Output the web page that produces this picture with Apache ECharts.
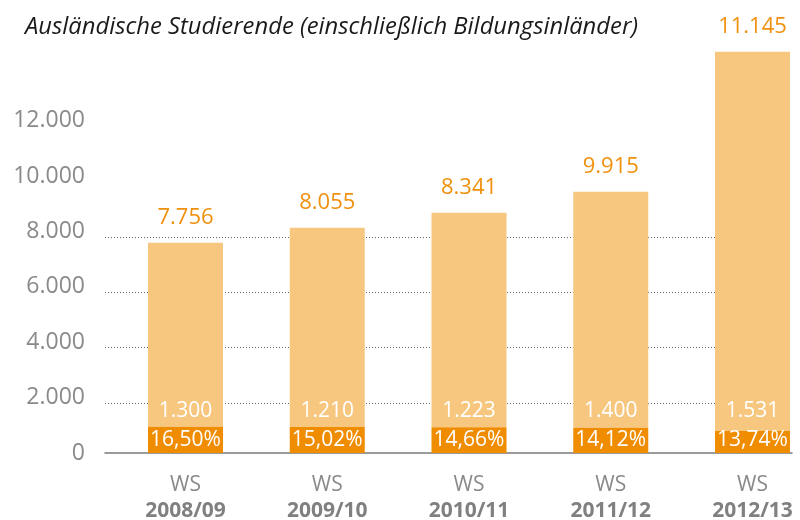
<!DOCTYPE html>
<html><head><meta charset="utf-8">
<script src="https://cdn.jsdelivr.net/npm/echarts@6/dist/echarts.min.js"></script>
<style>html,body{margin:0;padding:0;background:#fff;overflow:hidden}#c{width:800px;height:520px}</style>
</head><body><div id="c"></div>
<script>
// Data
const categoryPrefix = 'WS';
const categories = ['2008/09', '2009/10', '2010/11', '2011/12', '2012/13'];
// bar segment heights as drawn in the picture
const darkHeights = [950, 940, 930, 915, 795];
const lightHeights = [6640, 7195, 7745, 8520, 13690];
// values printed on the chart
const totalLabels = [7756, 8055, 8341, 9915, 11145];
const innerLabels = [1300, 1210, 1223, 1400, 1531];
const shareLabels = [16.50, 15.02, 14.66, 14.12, 13.74];
const yTickLabels = [0, 2000, 4000, 6000, 8000, 10000, 12000];
const titleText = 'Ausländische Studierende (einschließlich Bildungsinländer)';

function fmtThousands(n) {
  return String(n).replace(/\B(?=(\d{3})+(?!\d))/g, '.');
}
function fmtPct(p) { return p.toFixed(2).replace('.', ',') + '%'; }

const FONT = 'Open Sans';
const DARK = '#f08c00';
const LIGHT = '#f7c77f';
const ORANGE_TXT = '#f0900f';
const GRAY = '#8a8a8a';

const chart = echarts.init(document.getElementById('c'), null, {renderer: 'canvas'});
const option = {
  animation: false,
  backgroundColor: '#fff',
  title: {
    text: titleText, left: 20, top: 10,
    textStyle: {fontFamily: FONT, fontStyle: 'italic', fontWeight: 'normal', fontSize: 23.8, color: '#1a1a1a'}
  },
  grid: [
    {left: 185.5, right: 47.5, top: 9.8, bottom: 67, outerBoundsMode: 'none', containLabel: false},
    {left: 105, right: 8, top: 9.8, bottom: 67, outerBoundsMode: 'none', containLabel: false}
  ],
  xAxis: [
    {type: 'category', gridIndex: 0, data: categories, boundaryGap: false,
     axisLine: {show: false}, axisTick: {show: false}, splitLine: {show: false},
     axisLabel: {margin: 19, interval: 0,
       formatter: v => '{a|' + categoryPrefix + '}\n{b|' + v + '}',
       rich: {
         a: {fontFamily: FONT, fontSize: 21, color: GRAY, lineHeight: 26},
         b: {fontFamily: FONT, fontSize: 21, fontWeight: 'bold', color: '#808080', lineHeight: 26}
       }}},
    {type: 'category', gridIndex: 1, data: categories,
     axisLine: {show: true, lineStyle: {color: '#7a7a7a', width: 1.5}},
     axisTick: {show: false}, axisLabel: {show: false}}
  ],
  yAxis: [
    {type: 'value', gridIndex: 0, min: 0, max: 16000, show: false, splitLine: {show: false}},
    {type: 'value', gridIndex: 1, min: 0, max: 16000, interval: 2000,
     axisLine: {show: false}, axisTick: {show: false}, splitLine: {show: false},
     axisLabel: {margin: 20, fontFamily: FONT, fontSize: 23, color: GRAY, padding: [0, 0, 4, 0],
       formatter: v => yTickLabels.indexOf(v) >= 0 ? fmtThousands(v) : ''}},
    {type: 'value', gridIndex: 1, min: 200, max: 16200, splitNumber: 8, position: 'left',
     axisLine: {show: false}, axisTick: {show: false}, axisLabel: {show: false},
     splitLine: {show: true, lineStyle: {type: [1, 2], width: 1,
       color: ['rgba(0,0,0,0)', '#666', '#666', '#666', '#666', 'rgba(0,0,0,0)', 'rgba(0,0,0,0)', 'rgba(0,0,0,0)', 'rgba(0,0,0,0)', 'rgba(0,0,0,0)']}}}
  ],
  series: [
    {type: 'bar', xAxisIndex: 0, yAxisIndex: 0, stack: 's', barWidth: 75, z: 3, clip: false,
     data: darkHeights, itemStyle: {color: DARK},
     label: {show: true, position: 'insideBottom', distance: 0,
       formatter: p => '{a|' + fmtThousands(innerLabels[p.dataIndex]) + '}\n{b|' + fmtPct(shareLabels[p.dataIndex]) + '}',
       rich: {
         a: {fontFamily: FONT, fontSize: 21, color: '#fff', lineHeight: 32},
         b: {fontFamily: FONT, fontSize: 21, color: '#fff', lineHeight: 26}
       }}},
    {type: 'bar', xAxisIndex: 0, yAxisIndex: 0, stack: 's', barWidth: 75, z: 2, clip: false,
     data: lightHeights, itemStyle: {color: LIGHT},
     label: {show: true, position: 'top', distance: 14,
       fontFamily: FONT, fontSize: 22, color: ORANGE_TXT, lineHeight: 22,
       formatter: p => fmtThousands(totalLabels[p.dataIndex])}}
  ]
};
chart.setOption(option);
</script></body></html>
